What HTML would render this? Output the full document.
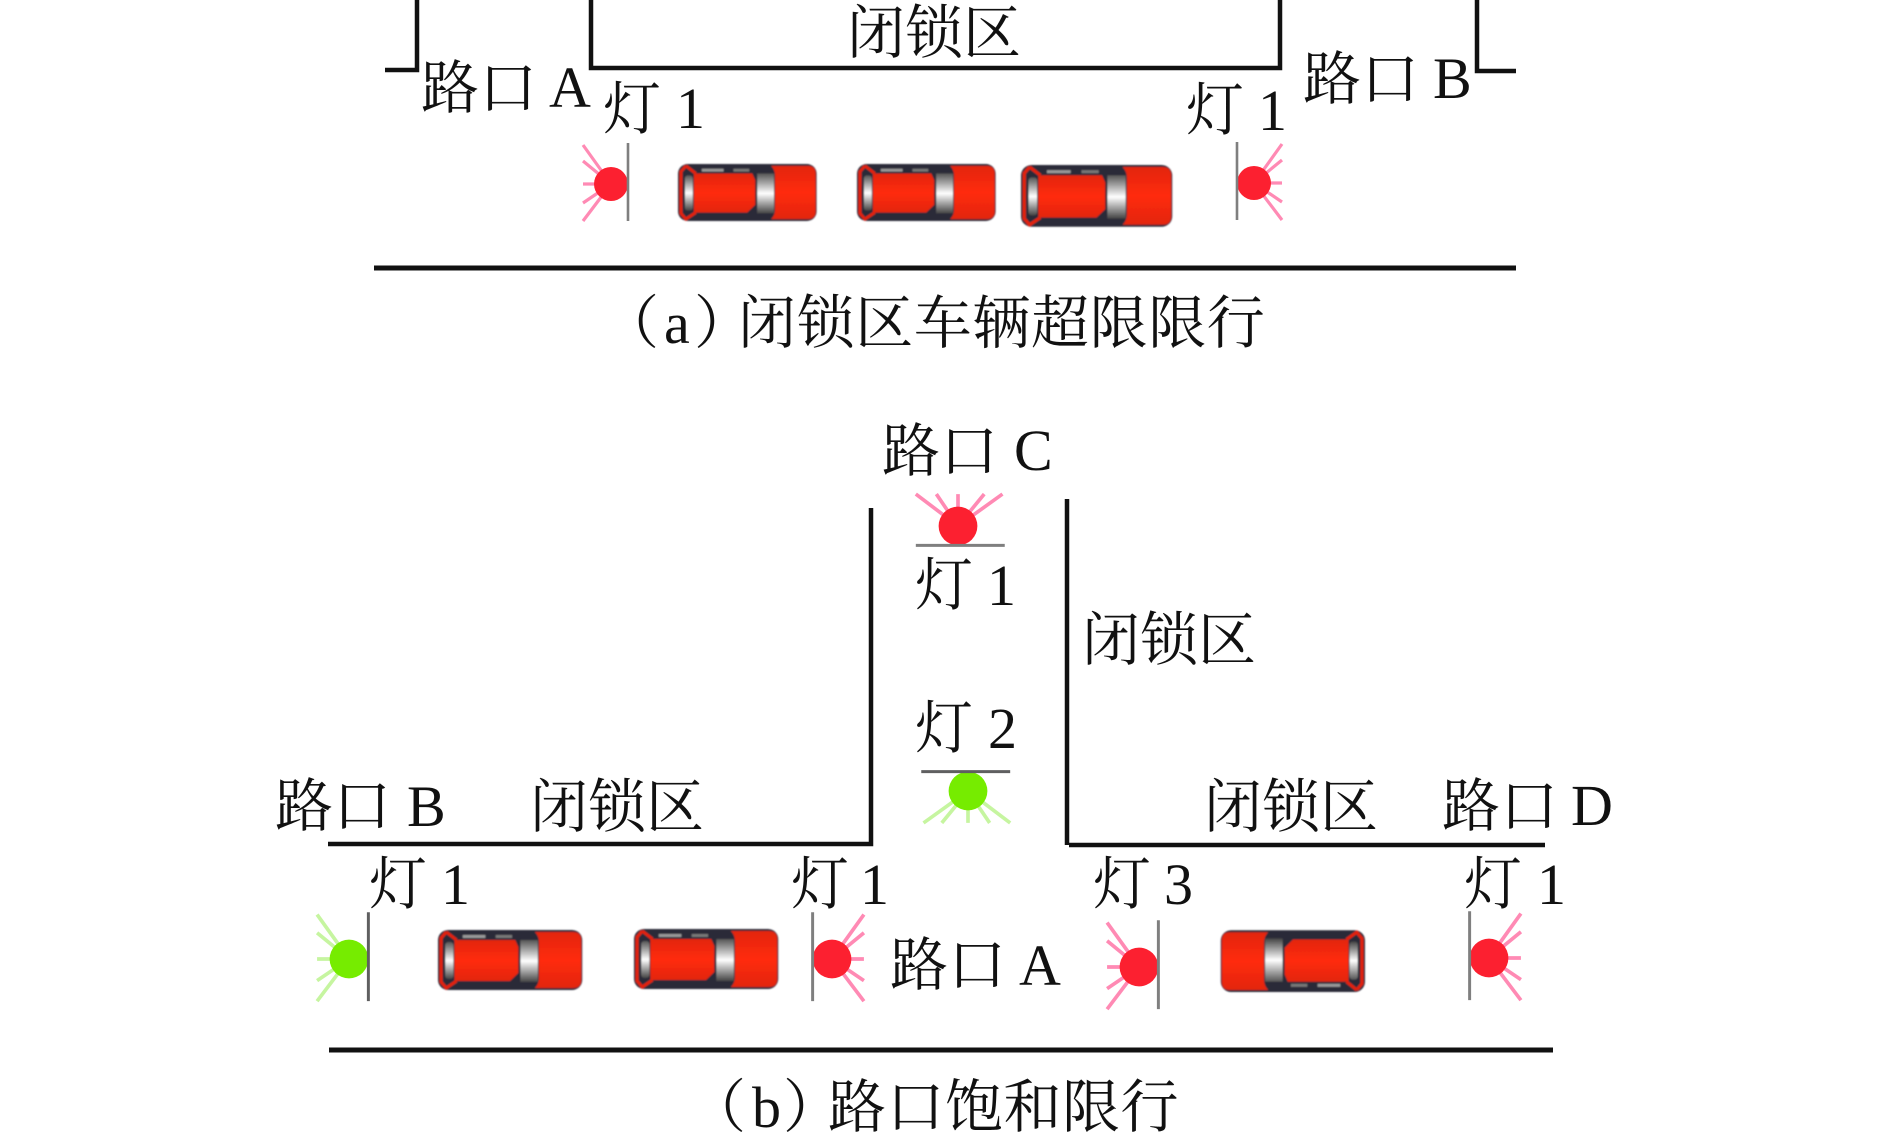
<!DOCTYPE html>
<html>
<head>
<meta charset="utf-8">
<style>
html,body{margin:0;padding:0;background:#fff}
svg{display:block}
text{font-family:"Liberation Serif","Noto Serif CJK SC",serif;font-size:58px;fill:#111}
.c{font-family:"Noto Serif CJK SC","Liberation Serif",serif}
</style>
</head>
<body>
<svg width="1890" height="1144" viewBox="0 0 1890 1144" xmlns="http://www.w3.org/2000/svg">
<defs>
<filter id="b" x="-5%" y="-5%" width="110%" height="110%"><feGaussianBlur stdDeviation=".7"/></filter>
<linearGradient id="rd" x1="0" y1="0" x2="0" y2="1"><stop offset="0" stop-color="#e2260e"/><stop offset=".5" stop-color="#ff2a10"/><stop offset="1" stop-color="#e2260e"/></linearGradient>
<linearGradient id="gl" x1="0" y1="0" x2="0" y2="1"><stop offset="0" stop-color="#555"/><stop offset=".5" stop-color="#fff"/><stop offset="1" stop-color="#444"/></linearGradient>
<g id="car" filter="url(#b)">
<rect x="0" y="0" width="140" height="60" rx="10" fill="#2b2b38"/>
<path d="M94 2H131Q139 2 139 10V50Q139 58 131 58H94Q98 54 98 48V12Q98 6 94 2Z" fill="url(#rd)"/>
<path d="M16 10H75L78 17V43L70 51H16Z" fill="url(#rd)"/>
<rect x="80" y="10" width="17" height="42" fill="url(#gl)"/>
<rect x="7" y="12" width="8" height="37" rx="3" fill="url(#gl)"/>
<path d="M8 2L3 8V52L8 58L18 51M8 2L18 10" fill="none" stroke="#e4240e" stroke-width="3"/>
<rect x="24" y="5" width="22" height="3" fill="#999"/>
<rect x="56" y="5" width="16" height="3" fill="#777"/>
</g>
<g id="rl">
<g stroke="#ff8ab4" stroke-width="3.2" fill="none"><path d="M0 0L-28 -39M0 0L-28 -23M0 0H-28M0 0L-28 19M0 0L-28 37"/></g>
<ellipse cx="0" cy="0" rx="17" ry="17" fill="#fc2030"/>
<path d="M17 -41V37" stroke="#7f7f7f" stroke-width="2.6" fill="none"/>
</g>
<g id="gr">
<g stroke="#c6f5a0" stroke-width="3.2" fill="none"><path d="M0 0L-28 -39M0 0L-28 -23M0 0H-28M0 0L-28 19M0 0L-28 37"/></g>
<ellipse cx="0" cy="0" rx="17" ry="17" fill="#76ec00"/>
<path d="M17 -41V37" stroke="#5f5f60" stroke-width="2.6" fill="none"/>
</g>
</defs>
<rect width="1890" height="1144" fill="#fff"/>

<g fill="none" stroke="#111" stroke-width="4.5">
<path d="M417 0V70H385"/>
<path d="M591 0V68H1280V0"/>
<path d="M1477 0V71H1516"/>
<path d="M374 268H1516" stroke-width="5"/>
<path d="M871 508V844H328"/>
<path d="M1067 499V845"/>
<path d="M1069 845H1545"/>
<path d="M329 1050H1553" stroke-width="5"/>
</g>

<use href="#car" transform="translate(678,164) scale(.99,.95)"/>
<use href="#car" transform="translate(857,164) scale(.99,.95)"/>
<use href="#car" transform="translate(1021,165) scale(1.08,1.03)"/>
<use href="#car" transform="translate(438,930) scale(1.03,1)"/>
<use href="#car" transform="translate(634,929) scale(1.03,1)"/>
<use href="#car" transform="translate(1365,992) scale(-1.03,-1.03)"/>

<use href="#rl" transform="translate(611,184)"/>
<use href="#rl" transform="translate(1254,183) scale(-1,1)"/>
<use href="#gr" transform="translate(349,959) scale(1.14)"/>
<use href="#rl" transform="translate(832,959) scale(-1.14,1.14)"/>
<use href="#rl" transform="translate(1139,967) scale(1.14)"/>
<use href="#rl" transform="translate(1489,958) scale(-1.14,1.14)"/>
<use href="#rl" transform="translate(958,526) rotate(90) scale(1.14)"/>
<use href="#gr" transform="translate(968,791) rotate(-90) scale(1.14)"/>

<text class="c" x="847" y="53">闭锁区</text>
<text class="c" x="421" y="108">路口</text><text x="549" y="107">A</text>
<text class="c" x="603" y="129">灯</text><text x="676" y="128">1</text>
<text class="c" x="1303" y="99">路口</text><text x="1433" y="98">B</text>
<text class="c" x="1186" y="130">灯</text><text x="1258" y="130">1</text>
<text class="c" x="601" y="343">（</text><text x="664" y="343">a</text><text class="c" x="694" y="343">）</text>
<text class="c" x="738" y="343" letter-spacing=".6">闭锁区车辆超限限行</text>

<text class="c" x="882" y="471">路口</text><text x="1014" y="470">C</text>
<text class="c" x="915" y="605">灯</text><text x="987" y="605">1</text>
<text class="c" x="1082" y="660">闭锁区</text>
<text class="c" x="915" y="748">灯</text><text x="988" y="748">2</text>
<text class="c" x="275" y="826">路口</text><text x="407" y="826">B</text>
<text class="c" x="530" y="827">闭锁区</text>
<text class="c" x="1204" y="827">闭锁区</text>
<text class="c" x="1442" y="826">路口</text><text x="1571" y="825">D</text>
<text class="c" x="369" y="904">灯</text><text x="441" y="904">1</text>
<text class="c" x="791" y="904">灯</text><text x="860" y="904">1</text>
<text class="c" x="1093" y="904">灯</text><text x="1164" y="904">3</text>
<text class="c" x="1464" y="904">灯</text><text x="1537" y="904">1</text>
<text class="c" x="890" y="985">路口</text><text x="1019" y="985">A</text>
<text class="c" x="688" y="1127">（</text><text x="752" y="1127">b</text><text class="c" x="783" y="1127">）</text>
<text class="c" x="828" y="1127" letter-spacing=".5">路口饱和限行</text>
</svg>
</body>
</html>
